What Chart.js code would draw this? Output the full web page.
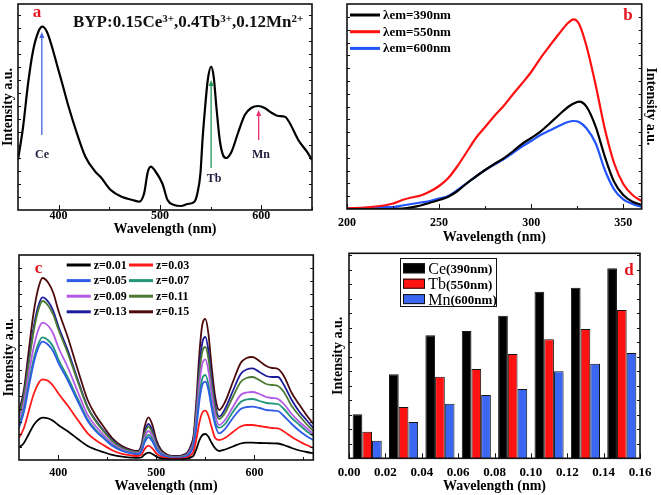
<!DOCTYPE html>
<html>
<head>
<meta charset="utf-8">
<script src="https://cdn.jsdelivr.net/npm/chart.js@4.4.0/dist/chart.umd.min.js"></script>
<style>
  html, body { margin: 0; padding: 0; background: #fff; }
  #wrap { position: relative; width: 661px; height: 495px; overflow: hidden; background: #fff; }
  canvas { position: absolute; }
</style>
</head>
<body>
<div id="wrap">
  <canvas id="chartA" width="330" height="240" style="left:0;top:0"></canvas>
  <canvas id="chartB" width="331" height="248" style="left:330px;top:0"></canvas>
  <canvas id="chartC" width="330" height="255" style="left:0;top:240px"></canvas>
  <canvas id="chartD" width="331" height="255" style="left:330px;top:240px"></canvas>
</div>
<script>
// ---- data ----
// (a) emission of BYP:0.15Ce,0.4Tb,0.12Mn
var waveA = [360, 365, 370, 375, 380, 384, 388.5, 393.5, 398.5, 403.5, 410, 418, 426.6, 436.5, 441.5,
  451.5, 463, 473, 479.5, 484.5, 487.8, 491, 496, 502.6, 507.5, 514, 520.7, 527.3, 534, 537,
  540, 542, 544.6, 547.2, 550.5, 553, 555.7, 559, 562.2, 565.5, 570.5, 577, 583.7, 590, 596.8,
  603.4, 610, 616.7, 623.3, 628, 636.5, 645, 650];
var intensityA = [50, 83, 127, 160, 178, 183.3, 178.3, 163.3, 145, 127, 103, 77, 53, 38, 33,
  20, 13, 10, 8.3, 17, 37, 43.3, 38, 26, 10, 5, 4, 6, 8.3, 17,
  37, 70, 103, 130, 143.3, 133.3, 103, 70, 55, 52, 58, 77, 95, 102, 104,
  102, 97.3, 94, 93.3, 87, 70, 58.3, 50];

// (b) excitation spectra
var waveB = [200, 210, 220, 225, 230, 235, 240, 245, 250, 255, 260, 265, 270, 275, 280, 285,
  290, 295, 300, 305, 310, 315, 320, 323, 326, 330, 335, 340, 345, 350, 355, 360];
var em390 = [0, 0, 0, 0, 0.5, 1.7, 3.5, 6.3, 9, 12.3, 18, 25.7, 32.5, 39, 45, 50.7,
  57.5, 65, 71, 77.3, 85.5, 94, 102, 105.5, 107.3, 102.3, 82.3, 52.3, 27.3, 14, 7.3, 4];
var em550 = [0.7, 1.5, 3.5, 5.5, 9, 11.5, 13.5, 17.5, 23, 31, 43, 57, 71, 82, 93, 103,
  114.5, 125.5, 137, 150.7, 163, 175, 186, 189.7, 185, 163, 124, 80, 46, 25, 14, 8];
var em600 = [0.7, 1.2, 1.8, 2, 3.5, 5, 6.5, 8, 10.5, 13, 19, 25.7, 32.5, 39, 44.5, 49.7,
  56, 62.3, 68, 74, 78.5, 83, 87, 88, 87, 80.7, 65.7, 39, 19.7, 9.7, 5, 2];
var labelsB = ['\u03BBem=390nm', '\u03BBem=550nm', '\u03BBem=600nm'];

// (c) emission vs Mn content z
var waveC = [360, 365, 370, 375, 380, 384, 390, 395, 400, 410, 420, 430, 438, 445, 455, 465, 475, 481,
  485, 488, 492, 496, 500, 505, 512, 520, 527,
  532, 535, 538, 541, 544, 547, 550, 553, 556, 560,
  564, 570, 578, 586, 592, 598, 605, 612, 618, 624, 630, 638, 646, 653, 660];
var z001 = [12.3, 17, 26, 35, 40.5, 42.3, 41.5, 39, 35, 28.5, 21, 14, 10.5, 8.2, 5.2, 3.3, 2.4, 2.1,
  2.7, 5.6, 7.3, 6, 3.4, 1.7, 0.9, 0.7, 0.9,
  1.5, 2.6, 4.6, 11.4, 20, 25, 26, 23.4, 17.8, 11.6,
  9, 10.5, 13.5, 16.5, 17.3, 17.3, 17, 16.8, 16.7, 16.5, 15, 12, 9.5, 8, 6.7];
var z003 = [22, 32, 49, 66, 77, 80.7, 79, 74, 66.7, 54, 40, 26.7, 20, 15.6, 9.8, 6.2, 4.5, 4,
  5.3, 10.9, 14.3, 11.6, 6.6, 3.3, 1.7, 1.3, 1.7,
  2.8, 4.9, 8.8, 21.7, 38, 47.6, 49.3, 44.5, 34, 22,
  20, 22, 28, 33.5, 35, 35, 34, 33, 32, 31.7, 28.5, 23, 18.5, 15, 12];
var z005 = [32, 48, 73, 97, 113, 118.3, 115, 108.5, 97.5, 79, 58.5, 39, 29, 22.8, 14.3, 9, 6.5, 5.8,
  8.5, 17.5, 22.7, 18.5, 10.6, 5.3, 2.7, 2.1, 2.7,
  4.4, 7.8, 13.9, 34, 60, 75.5, 78.3, 70.5, 54, 35,
  26.7, 31, 42, 51, 53, 53.3, 52, 50, 49.5, 49, 44, 36, 29, 24, 20];
var z007 = [36, 51, 77, 101, 117, 122.7, 119.5, 113, 101, 82, 61, 40.5, 30.4, 23.6, 14.9, 9.5, 6.8, 6,
  9.4, 19.5, 25, 20.7, 11.8, 5.9, 3, 2.4, 3,
  4.8, 8.4, 15, 37, 65, 82, 85, 76, 58, 38,
  32.3, 36, 48, 58, 60.5, 61, 59, 57, 56.5, 56, 51, 42, 35, 29, 24];
var z009 = [40, 57, 86, 113, 131, 137.3, 134, 126, 113, 92, 68, 45, 34, 26.4, 16.6, 10.6, 7.5, 6.8,
  10.9, 22.4, 29, 23.8, 13.6, 6.8, 3.4, 2.7, 3.4,
  5.7, 10, 17.8, 44, 77, 96.6, 100.7, 90, 69, 45,
  35, 40, 53, 65, 67.5, 68, 66, 63, 62, 61, 56, 46, 38, 32, 26];
var z011 = [44, 64, 97, 129, 151, 159, 154, 145, 131, 106, 78, 52, 39, 30, 19, 12, 8.7, 7.8,
  12.5, 26, 33.3, 27, 15.6, 7.8, 3.9, 3.1, 3.9,
  6.4, 11, 20, 50, 87, 109, 113, 102, 78, 51,
  41, 47, 63, 78, 82, 83, 80, 76, 75, 74, 68, 54, 44, 36, 29];
var z013 = [46, 66, 100, 133, 155, 162.7, 158, 149, 134, 109, 80, 53, 40, 31, 20, 12.5, 9, 8,
  13.5, 28, 36, 29.5, 17, 8.5, 4.2, 3.4, 4.2,
  7, 12, 22, 54, 94, 118, 123, 110, 84, 55,
  43.3, 51, 69, 86, 90.5, 91.7, 88, 84, 83, 83, 75, 60, 48, 40, 32];
var z015 = [48, 70, 110, 148, 173, 182, 177, 167, 150, 122, 90, 60, 45, 35, 22, 14, 10, 9,
  16, 33, 42.7, 35, 20, 10, 5, 4, 5,
  8, 14, 25, 62, 108, 136, 141, 127, 97, 63,
  50, 58, 78, 97, 102, 103, 99, 94, 92, 91, 84, 67, 55, 45, 36];
var labelsC = ['z=0.01', 'z=0.03', 'z=0.05', 'z=0.07', 'z=0.09', 'z=0.11', 'z=0.13', 'z=0.15'];

// (d) peak intensities vs z
var zValues = [0.01, 0.03, 0.05, 0.07, 0.09, 0.11, 0.13, 0.15];
var ce390 = [1.32, 2.52, 3.69, 3.82, 4.28, 5.00, 5.12, 5.70];
var tb550 = [0.80, 1.54, 2.45, 2.68, 3.13, 3.57, 3.88, 4.45];
var mn600 = [0.53, 1.09, 1.64, 1.90, 2.08, 2.61, 2.84, 3.16];
var labelsD = ['Ce(390nm)', 'Tb(550nm)', 'Mn(600nm)'];

// ---- common stuff ----
var SERIF = "'Liberation Serif', 'Times New Roman', serif";
Chart.defaults.font.family = SERIF;
Chart.defaults.color = '#000';

var tickFont = { family: SERIF, size: 12, weight: 'bold', lineHeight: 1 };
var titleFont = { family: SERIF, size: 14, weight: 'bold' };

function pts(xs, ys) {
  return xs.map(function (x, i) { return { x: x, y: ys[i] }; });
}

// ticks at a fixed step (chart.js would otherwise start them at min)
function fixedTicks(from, to, step) {
  return function (scale) {
    var t = [];
    for (var v = from; v <= to + step / 1000; v += step) {
      t.push({ value: Math.round(v * 1000) / 1000 });
    }
    scale.ticks = t;
  };
}

// labels on the major steps, blank on minor steps
function nmTicks(major) {
  return function (v) {
    return v % major === 0 ? String(v) : '';
  };
}

// box round the plot + small inward ticks
var framePlugin = {
  id: 'frame',
  afterDatasetsDraw: function (chart) {
    var a = chart.chartArea, ctx = chart.ctx;
    var sx = chart.scales.x, sy = chart.scales.y;
    ctx.save();
    ctx.strokeStyle = '#111';
    ctx.lineWidth = 1;
    sx.ticks.forEach(function (t) {
      var px = Math.round(sx.getPixelForValue(t.value)) + 0.5;
      var len = t.label === '' ? 3 : 5;
      ctx.beginPath();
      ctx.moveTo(px, a.bottom);
      ctx.lineTo(px, a.bottom - len);
      ctx.stroke();
    });
    sy.ticks.forEach(function (t) {
      if (t.value <= sy.min || t.value >= sy.max) return;
      var py = Math.round(sy.getPixelForValue(t.value)) + 0.5;
      ctx.beginPath();
      ctx.moveTo(a.left, py); ctx.lineTo(a.left + 3, py);
      ctx.moveTo(a.right, py); ctx.lineTo(a.right - 3, py);
      ctx.stroke();
    });
    ctx.lineWidth = 1.6;
    ctx.strokeRect(a.left, a.top, a.right - a.left, a.bottom - a.top);
    ctx.restore();
  }
};

function panelLetter(ctx, ch, x, y) {
  ctx.fillStyle = '#e4141c';
  ctx.font = 'bold 17px ' + SERIF;
  ctx.textAlign = 'center';
  ctx.textBaseline = 'alphabetic';
  ctx.fillText(ch, x, y);
}

function lineLegendItem(ctx, color, text, x0, x1, y, size) {
  ctx.strokeStyle = color;
  ctx.lineWidth = 3;
  ctx.beginPath(); ctx.moveTo(x0, y); ctx.lineTo(x1, y); ctx.stroke();
  ctx.fillStyle = '#000';
  ctx.font = 'bold ' + size + 'px ' + SERIF;
  ctx.textAlign = 'left';
  ctx.textBaseline = 'middle';
  ctx.fillText(text, x1 + 3, y + 0.5);
}

function upArrow(ctx, x, yFrom, yTo, color) {
  ctx.strokeStyle = color;
  ctx.fillStyle = color;
  ctx.lineWidth = 1.3;
  ctx.beginPath(); ctx.moveTo(x, yFrom); ctx.lineTo(x, yTo + 4); ctx.stroke();
  ctx.beginPath();
  ctx.moveTo(x, yTo); ctx.lineTo(x - 2.5, yTo + 6); ctx.lineTo(x + 2.5, yTo + 6);
  ctx.closePath(); ctx.fill();
}

function baseOptions() {
  return {
    responsive: false,
    animation: false,
    devicePixelRatio: 1,
    plugins: { legend: { display: false }, tooltip: { enabled: false } }
  };
}

var noGrid = { display: false, drawTicks: false };

// ---- (a) ----
var optA = baseOptions();
optA.layout = { padding: { left: 0, right: 18, top: 4, bottom: 0 } };
optA.scales = {
  x: {
    type: 'linear', min: 360, max: 650,
    grid: noGrid, border: { display: false },
    afterBuildTicks: fixedTicks(400, 650, 50),
    ticks: { padding: -0.5, font: tickFont, maxRotation: 0, autoSkip: false, callback: nmTicks(100) },
    title: { display: true, text: 'Wavelength (nm)', font: titleFont, padding: { top: 0, bottom: 2 } },
    afterFit: function (s) { s.height = 30; }
  },
  y: {
    min: 0, max: 206,
    grid: noGrid, border: { display: false },
    afterBuildTicks: fixedTicks(13, 200, 13),
    ticks: { display: false },
    title: { display: true, text: 'Intensity a.u.', font: titleFont, padding: { top: 0, bottom: 0 } },
    afterFit: function (s) { s.width = 18; }
  }
};

new Chart(document.getElementById('chartA'), {
  type: 'line',
  data: {
    datasets: [{
      label: 'BYP:0.15Ce,0.4Tb,0.12Mn',
      data: pts(waveA, intensityA),
      borderColor: '#000', borderWidth: 2.2, pointRadius: 0,
      cubicInterpolationMode: 'monotone'
    }]
  },
  options: optA,
  plugins: [framePlugin, {
    id: 'panelA',
    afterDraw: function (chart) {
      var ctx = chart.ctx, sx = chart.scales.x, sy = chart.scales.y;
      ctx.save();
      panelLetter(ctx, 'a', 37, 17);

      // sample formula with superscripts
      var parts = [['BYP:0.15Ce', false], ['3+', true], [',0.4Tb', false], ['3+', true], [',0.12Mn', false], ['2+', true]];
      var x = 73;
      ctx.fillStyle = '#111';
      ctx.textAlign = 'left';
      ctx.textBaseline = 'alphabetic';
      parts.forEach(function (p) {
        ctx.font = 'bold ' + (p[1] ? 11 : 17) + 'px ' + SERIF;
        ctx.fillText(p[0], x, p[1] ? 21.5 : 26.5);
        x += ctx.measureText(p[0]).width;
      });

      // arrows pointing at the three emissions
      upArrow(ctx, sx.getPixelForValue(383.5), sy.getPixelForValue(75), sy.getPixelForValue(178), '#4466dd');
      upArrow(ctx, sx.getPixelForValue(550.5), sy.getPixelForValue(42), sy.getPixelForValue(130), '#22935a');
      upArrow(ctx, sx.getPixelForValue(597.4), sy.getPixelForValue(70), sy.getPixelForValue(100), '#e8306a');

      ctx.fillStyle = '#1e1e3c';
      ctx.font = 'bold 12px ' + SERIF;
      ctx.textAlign = 'center';
      ctx.fillText('Ce', 42, 157.5);
      ctx.fillText('Tb', 214, 182);
      ctx.fillText('Mn', 261, 157.5);
      ctx.restore();
    }
  }]
});

// ---- (b) ----
var colorsB = ['#000000', '#ff1010', '#2255ff'];
var optB = baseOptions();
optB.layout = { padding: { left: 15.8, right: 0, top: 4, bottom: 0 } };
optB.scales = {
  x: {
    type: 'linear', min: 200, max: 360,
    grid: noGrid, border: { display: false },
    afterBuildTicks: fixedTicks(200, 350, 25),
    ticks: { padding: 8, font: tickFont, maxRotation: 0, autoSkip: false, callback: nmTicks(50) },
    title: { display: true, text: 'Wavelength (nm)', font: titleFont, padding: { top: 0, bottom: 2.6 } },
    afterFit: function (s) { s.height = 39; }
  },
  y: {
    position: 'right',
    min: 0, max: 205,
    grid: noGrid, border: { display: false },
    afterBuildTicks: fixedTicks(12.8, 200, 12.8),
    ticks: { display: false },
    title: { display: true, text: 'Intensity a.u.', font: titleFont, padding: { top: 2, bottom: 0 } },
    afterFit: function (s) { s.width = 19.3; }
  }
};

new Chart(document.getElementById('chartB'), {
  type: 'line',
  data: {
    datasets: [em390, em550, em600].map(function (s, i) {
      return {
        label: labelsB[i], data: pts(waveB, s),
        borderColor: colorsB[i], borderWidth: 2.2, pointRadius: 0,
        cubicInterpolationMode: 'monotone'
      };
    })
  },
  options: optB,
  plugins: [framePlugin, {
    id: 'panelB',
    afterDraw: function (chart) {
      var ctx = chart.ctx;
      ctx.save();
      panelLetter(ctx, 'b', 298, 20);
      chart.data.datasets.forEach(function (ds, i) {
        lineLegendItem(ctx, ds.borderColor, ds.label, 20, 50, 15 + i * 16.7, 13);
      });
      ctx.restore();
    }
  }]
});

// ---- (c) ----
var colorsC = ['#000000', '#ff1a1a', '#2f5ce6', '#23967a', '#b45ae6', '#4c7a34', '#1c1c9c', '#4d0b0b'];
var optC = baseOptions();
optC.layout = { padding: { left: 0, right: 16.7, top: 15, bottom: 0 } };
optC.scales = {
  x: {
    type: 'linear', min: 360, max: 660,
    grid: noGrid, border: { display: false },
    afterBuildTicks: fixedTicks(400, 650, 50),
    ticks: { padding: 6.7, font: tickFont, maxRotation: 0, autoSkip: false, callback: nmTicks(100) },
    title: { display: true, text: 'Wavelength (nm)', font: titleFont, padding: { top: 0, bottom: 0 } },
    afterFit: function (s) { s.height = 35; }
  },
  y: {
    min: 0, max: 205,
    grid: noGrid, border: { display: false },
    afterBuildTicks: fixedTicks(12.8, 200, 12.8),
    ticks: { display: false },
    title: { display: true, text: 'Intensity a.u.', font: titleFont, padding: { top: 1, bottom: 0 } },
    afterFit: function (s) { s.width = 19; }
  }
};

new Chart(document.getElementById('chartC'), {
  type: 'line',
  data: {
    datasets: [z001, z003, z005, z007, z009, z011, z013, z015].map(function (s, i) {
      return {
        label: labelsC[i], data: pts(waveC, s),
        borderColor: colorsC[i], borderWidth: 1.8, pointRadius: 0,
        cubicInterpolationMode: 'monotone'
      };
    })
  },
  options: optC,
  plugins: [framePlugin, {
    id: 'panelC',
    afterDraw: function (chart) {
      var ctx = chart.ctx;
      ctx.save();
      panelLetter(ctx, 'c', 38.5, 32.5);
      chart.data.datasets.forEach(function (ds, i) {
        var col = i % 2, row = Math.floor(i / 2);
        var x0 = col ? 129 : 66.7;
        lineLegendItem(ctx, ds.borderColor, ds.label, x0, x0 + 24, 25 + row * 15.6, 12);
      });
      ctx.restore();
    }
  }]
});

// ---- (d) ----
var colorsD = ['#000000', '#ff1212', '#3a66f2'];
var optD = baseOptions();
optD.layout = { padding: { left: 0, right: 21, top: 13.3, bottom: 0 } };
optD.datasets = { bar: { categoryPercentage: 0.8, barPercentage: 1 } };
optD.scales = {
  x: {
    type: 'linear', min: 0, max: 0.16, offset: false,
    grid: { display: false, drawTicks: false, offset: false }, border: { display: false },
    afterBuildTicks: fixedTicks(0, 0.16, 0.02),
    ticks: { padding: 7.5, font: { family: SERIF, size: 13, weight: 'bold', lineHeight: 1 },
      maxRotation: 0, autoSkip: false,
      callback: function (v) { return v.toFixed(2); } },
    title: { display: true, text: 'Wavelength (nm)', font: titleFont, padding: { top: 0, bottom: 0 } },
    afterFit: function (s) { s.height = 36.7; }
  },
  y: {
    min: 0, max: 6.15,
    grid: noGrid, border: { display: false },
    afterBuildTicks: fixedTicks(0.435, 6.1, 0.435),
    ticks: { display: false },
    title: { display: true, text: 'Intensity a.u.', font: titleFont, padding: { top: 0, bottom: 0 } },
    afterFit: function (s) { s.width = 19; }
  }
};

new Chart(document.getElementById('chartD'), {
  type: 'bar',
  data: {
    datasets: [ce390, tb550, mn600].map(function (s, i) {
      return {
        label: labelsD[i], data: pts(zValues, s),
        backgroundColor: colorsD[i], borderColor: '#111', borderWidth: 1
      };
    })
  },
  options: optD,
  plugins: [framePlugin, {
    id: 'panelD',
    afterDraw: function (chart) {
      var ctx = chart.ctx;
      ctx.save();
      panelLetter(ctx, 'd', 299, 35);
      ctx.strokeStyle = '#111';
      ctx.lineWidth = 1;
      ctx.strokeRect(70.5, 18.5, 96, 48);
      chart.data.datasets.forEach(function (ds, i) {
        var y = 28.3 + i * 15.4;
        ctx.fillStyle = ds.backgroundColor;
        ctx.fillRect(73, y - 5, 22, 10);
        ctx.strokeStyle = '#111';
        ctx.strokeRect(73.5, y - 4.5, 21, 9);
        var cut = ds.label.indexOf('(');
        var name = ds.label.slice(0, cut), rest = ds.label.slice(cut);
        ctx.fillStyle = '#000';
        ctx.textAlign = 'left';
        ctx.textBaseline = 'alphabetic';
        ctx.font = '16px ' + SERIF;
        ctx.fillText(name, 98.3, y + 5.5);
        var w = ctx.measureText(name).width;
        ctx.font = 'bold 13px ' + SERIF;
        ctx.fillText(rest, 98.3 + w, y + 5);
      });
      ctx.restore();
    }
  }]
});
</script>
</body>
</html>
